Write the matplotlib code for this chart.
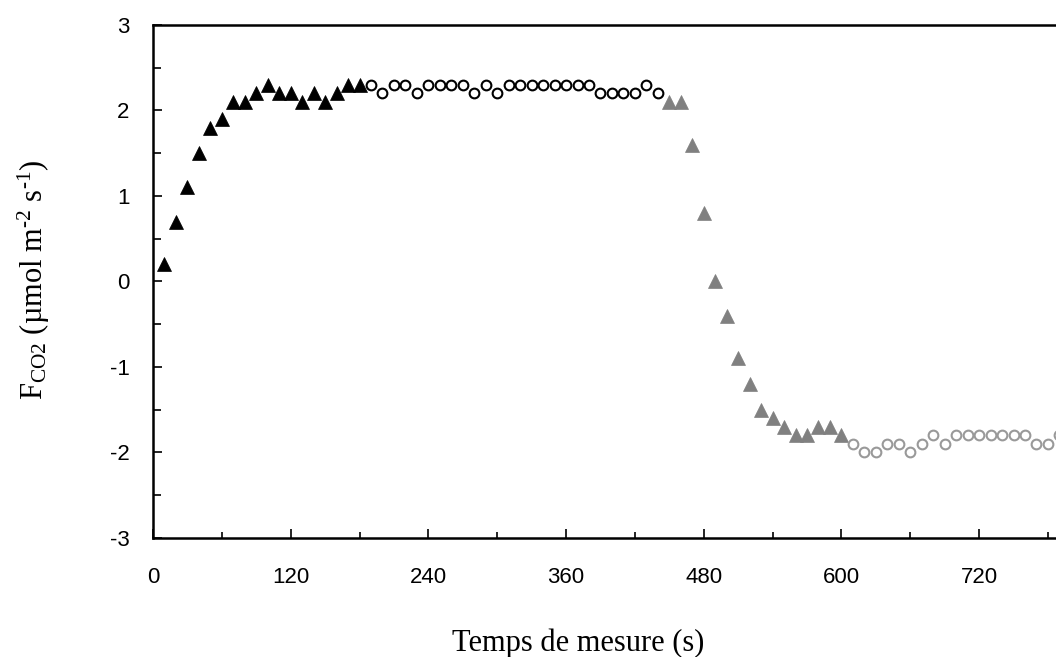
import matplotlib
matplotlib.use("Agg")
import matplotlib.pyplot as plt
from matplotlib.ticker import MultipleLocator, FuncFormatter

# ---- data (time in s, flux in µmol m-2 s-1) ----
t_black_tri = [10, 20, 30, 40, 50, 60, 70, 80, 90, 100, 110, 120, 130, 140, 150, 160, 170, 180]
f_black_tri = [0.2, 0.7, 1.1, 1.5, 1.8, 1.9, 2.1, 2.1, 2.2, 2.3, 2.2, 2.2, 2.1, 2.2, 2.1, 2.2, 2.3, 2.3]

t_black_circ = [190, 200, 210, 220, 230, 240, 250, 260, 270, 280, 290, 300, 310, 320, 330,
                340, 350, 360, 370, 380, 390, 400, 410, 420, 430, 440]
f_black_circ = [2.3, 2.2, 2.3, 2.3, 2.2, 2.3, 2.3, 2.3, 2.3, 2.2, 2.3, 2.2, 2.3, 2.3, 2.3,
                2.3, 2.3, 2.3, 2.3, 2.3, 2.2, 2.2, 2.2, 2.2, 2.3, 2.2]

t_grey_tri = [450, 460, 470, 480, 490, 500, 510, 520, 530, 540, 550, 560, 570, 580, 590, 600]
f_grey_tri = [2.1, 2.1, 1.6, 0.8, 0.0, -0.4, -0.9, -1.2, -1.5, -1.6, -1.7, -1.8, -1.8, -1.7, -1.7, -1.8]

t_grey_circ = [610, 620, 630, 640, 650, 660, 670, 680, 690, 700, 710, 720, 730, 740, 750,
               760, 770, 780, 790]
f_grey_circ = [-1.9, -2.0, -2.0, -1.9, -1.9, -2.0, -1.9, -1.8, -1.9, -1.8, -1.8, -1.8, -1.8,
               -1.8, -1.8, -1.8, -1.9, -1.9, -1.8]

x_ticks = [0, 120, 240, 360, 480, 600, 720]
y_ticks = [-3, -2, -1, 0, 1, 2, 3]

plt.rcParams['axes.unicode_minus'] = False
plt.rcParams['mathtext.fontset'] = 'custom'
plt.rcParams['mathtext.rm'] = 'Liberation Serif'
plt.rcParams['mathtext.it'] = 'Liberation Serif:italic'

fig = plt.figure(figsize=(10.56, 6.57), dpi=100)
ax = fig.add_axes([153 / 1056, 1 - 537.7 / 657, 1 - 153 / 1056, (537.7 - 25) / 657])

ax.plot(t_black_tri, f_black_tri, linestyle='none', marker='^', ms=10,
        color='black', mec='black', mew=0.5)
ax.plot(t_black_circ, f_black_circ, linestyle='none', marker='o', ms=7,
        mfc='white', mec='black', mew=1.5)
ax.plot(t_grey_tri, f_grey_tri, linestyle='none', marker='^', ms=10,
        color='#808080', mec='#808080', mew=0.5)
ax.plot(t_grey_circ, f_grey_circ, linestyle='none', marker='o', ms=7,
        mfc='white', mec='#999999', mew=1.5)

ax.set_xlim(0, 787)
ax.set_ylim(-3, 3)
ax.set_xticks(x_ticks)
ax.set_yticks(y_ticks)
ax.xaxis.set_minor_locator(MultipleLocator(60))
ax.yaxis.set_minor_locator(MultipleLocator(0.5))
ax.yaxis.set_major_formatter(FuncFormatter(lambda v, p: f"{int(round(v))}"))

for s in ['left', 'bottom', 'top']:
    ax.spines[s].set_linewidth(1.8)
    ax.spines[s].set_color('black')
ax.spines['right'].set_visible(False)

ax.tick_params(which='both', direction='in', width=1.2, colors='black',
               labelsize=16, top=False, right=False)
ax.tick_params(which='major', length=6.3)
ax.tick_params(axis='x', which='minor', length=4.3)
ax.tick_params(axis='y', which='minor', length=5.5)
ax.tick_params(axis='x', which='major', pad=21)
ax.tick_params(axis='y', which='major', pad=17)
for lab in ax.get_xticklabels() + ax.get_yticklabels():
    lab.set_fontfamily('Liberation Sans')

fig.text(578 / 1056, 1 - 643 / 657, 'Temps de mesure (s)', ha='center', va='center',
         fontsize=22, family='Liberation Serif')
fig.text(34 / 1056, 1 - 280 / 657,
         'F$_\\mathregular{CO2}$ (µmol m$^\\mathregular{\u20102}$ s$^\\mathregular{\u20101}$)',
         rotation=90, ha='center', va='center', fontsize=22, family='Liberation Serif')

fig.savefig('out.png', dpi=100)
